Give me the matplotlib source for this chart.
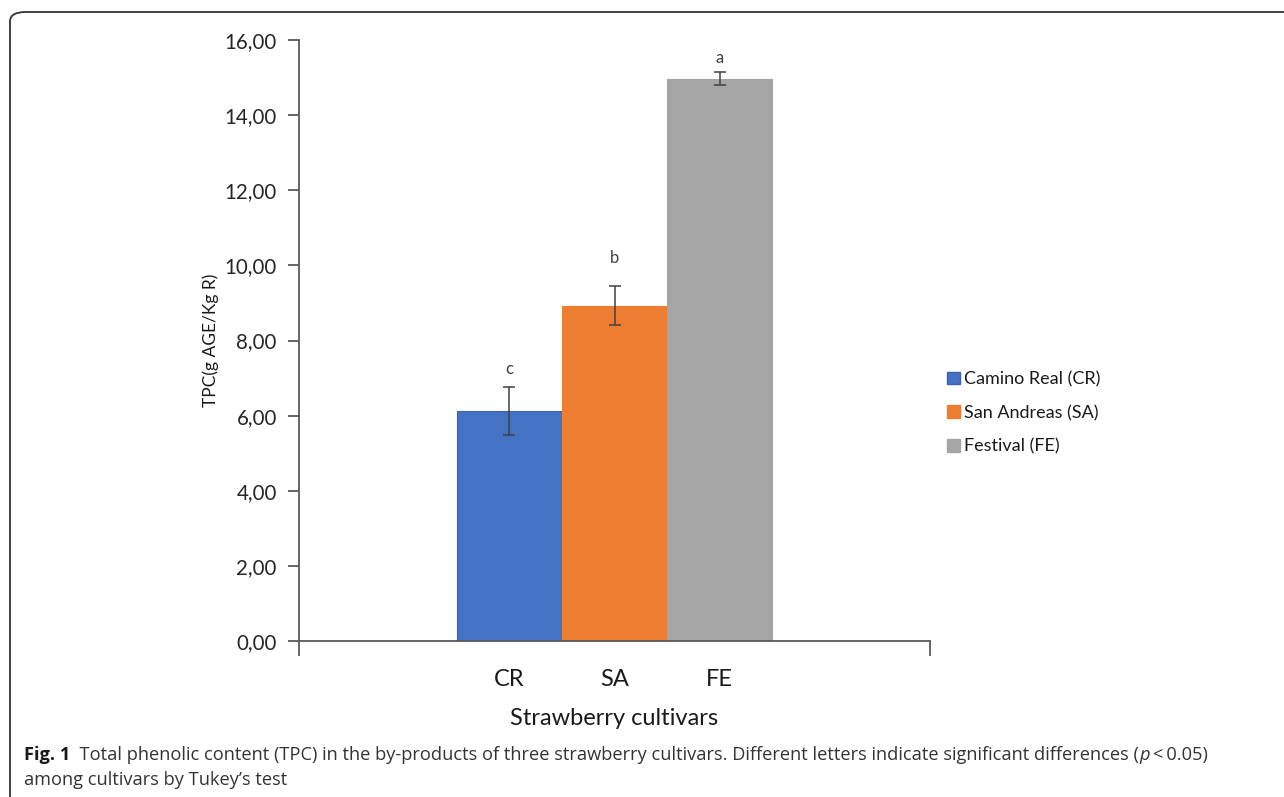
import numpy as np
import matplotlib
matplotlib.use("Agg")
import matplotlib.pyplot as plt
from matplotlib.patches import FancyBboxPatch, Patch

# data
cultivars = ["CR", "SA", "FE"]
legend_names = ["Camino Real (CR)", "San Andreas (SA)", "Festival (FE)"]
tpc = [6.13, 8.93, 14.97]
tpc_err = [0.64, 0.52, 0.18]
letters = ["c", "b", "a"]
letter_y = [7.25, 10.2, 15.52]
colors = ["#4472C4", "#ED7D31", "#A5A5A5"]
edges = ["#3A62AE", "#ED7D31", "#A5A5A5"]
yticks = [0, 2, 4, 6, 8, 10, 12, 14, 16]

W, H = 1284, 797
fig = plt.figure(figsize=(W / 100, H / 100), dpi=100)
plt.rcParams['font.family'] = ['Lato', 'DejaVu Sans']

# rounded frame around the figure panel
frame = FancyBboxPatch((10 / W, -20 / H), 1.2, (H - 12 + 20) / H,
                       boxstyle="round,pad=0,rounding_size=0.012",
                       transform=fig.transFigure, fill=False,
                       edgecolor="#333333", lw=1.3, zorder=0)
fig.patches.append(frame)

ax = fig.add_axes([299 / W, 1 - 641 / H, (930 - 299) / W, (641 - 40) / H])
x = np.arange(len(cultivars))
ax.bar(x, tpc, width=1.0, color=colors, edgecolor=edges, lw=0.8, zorder=2)
ax.errorbar(x, tpc, yerr=tpc_err, fmt="none", ecolor="#404040",
            elinewidth=1.1, capsize=4, capthick=1.1, zorder=3)
for xi, lt, ly in zip(x, letters, letter_y):
    ax.text(xi, ly, lt, ha="center", va="center", fontsize=12, color="#404040")

ax.set_xlim(-2, 4)
ax.set_ylim(0, 16)
for s in ["top", "right"]:
    ax.spines[s].set_visible(False)
for s in ["left", "bottom"]:
    ax.spines[s].set_color("#595959")
    ax.spines[s].set_linewidth(1.3)

ax.set_yticks(yticks)
ax.set_yticklabels(["{:.2f}".format(v).replace(".", ",") for v in yticks])
ax.tick_params(axis="y", length=8, width=1.3, color="#595959",
               labelsize=14.8, labelcolor="#262626", pad=8)
ax.set_xticks([-2, 4])
ax.set_xticklabels(["", ""])
ax.tick_params(axis="x", which="major", length=11, width=1.3, color="#595959")
ax.set_xticks(x, minor=True)
ax.set_xticklabels(cultivars, minor=True)
ax.tick_params(axis="x", which="minor", length=0, labelsize=17,
               labelcolor="#1a1a1a", pad=20)

ax.set_ylabel("TPC(g AGE/Kg R)", fontsize=12.5, color="#1a1a1a", labelpad=4)
ax.set_xlabel("Strawberry cultivars", fontsize=17, color="#1a1a1a", labelpad=13)

handles = [Patch(facecolor=c, edgecolor=e) for c, e in zip(colors, edges)]
ax.legend(handles, legend_names, loc="center left",
          bbox_to_anchor=(931 / W, 1 - 413 / H), bbox_transform=fig.transFigure,
          frameon=False, fontsize=13, handlelength=0.7, handleheight=0.7,
          handletextpad=0.25, labelspacing=0.98, labelcolor="#1a1a1a")

# caption
cap_font = ['Open Sans', 'DejaVu Sans']
cs = 13.15
t1 = fig.text(24 / W, 1 - 755 / H, "Fig. 1", fontsize=cs, fontweight="bold",
              family=cap_font, va="center", color="#1a1a1a")
t2 = ax.annotate("  Total phenolic content (TPC) in the by-products of three strawberry "
                 "cultivars. Different letters indicate significant differences (",
                 xy=(1, 0.5), xycoords=t1, va="center", ha="left", fontsize=cs,
                 family=cap_font, color="#333333", annotation_clip=False)
t3 = ax.annotate("p", xy=(1, 0.5), xycoords=t2, va="center", ha="left",
                 fontsize=cs, family=cap_font, style="italic", color="#333333",
                 annotation_clip=False)
ax.annotate("\u2009<\u20090.05)", xy=(1, 0.5), xycoords=t3, va="center", ha="left",
            fontsize=cs, family=cap_font, color="#333333", annotation_clip=False)
fig.text(24 / W, 1 - 780 / H, "among cultivars by Tukey\u2019s test", fontsize=cs,
         family=cap_font, va="center", color="#333333")

fig.savefig("out.png", dpi=100)
